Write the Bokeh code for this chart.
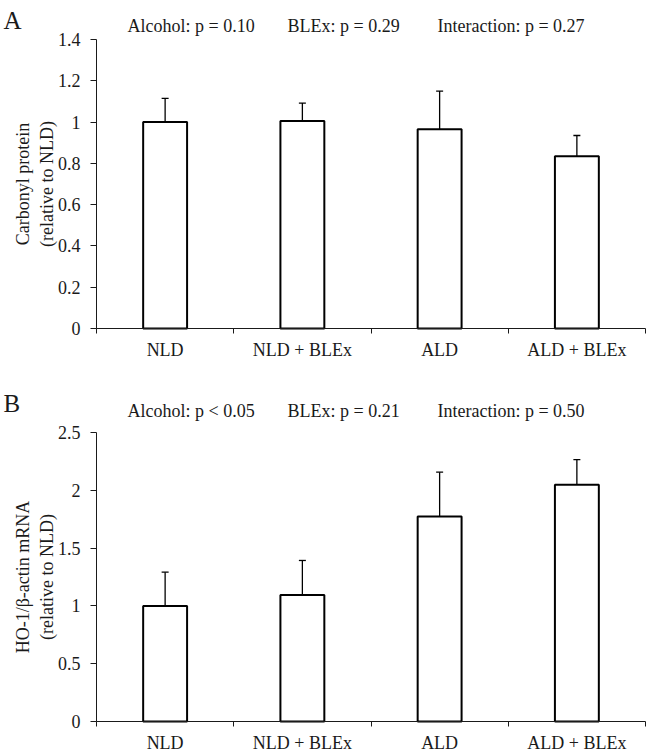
from bokeh.plotting import figure
from bokeh.models import (Range1d, FixedTicker, Whisker, TeeHead, ColumnDataSource,
                          Label, CustomJSTickFormatter)
from bokeh.layouts import column
from bokeh.embed import file_html
from bokeh.resources import INLINE

categories = ["NLD", "NLD + BLEx", "ALD", "ALD + BLEx"]
carbonyl_mean = [1.0, 1.005, 0.965, 0.835]
carbonyl_err = [0.115, 0.087, 0.185, 0.100]
ho1_mean = [1.0, 1.095, 1.773, 2.047]
ho1_err = [0.292, 0.298, 0.384, 0.219]
carbonyl_yticks = [0, 0.2, 0.4, 0.6, 0.8, 1, 1.2, 1.4]
ho1_yticks = [0, 0.5, 1, 1.5, 2, 2.5]
stats_A = ["Alcohol: p = 0.10", "BLEx: p = 0.29", "Interaction: p = 0.27"]
stats_B = ["Alcohol: p < 0.05", "BLEx: p = 0.21", "Interaction: p = 0.50"]

FONT = "Liberation Serif"
INK = "#1a1a1a"
WIDTH = 648
AXIS_X = 96          # canvas x of the y axis
AXIS_END = 645       # canvas x of the right end of the category axis
STAT_X = [127, 287, 437]


def panel(letter, stats, means, errs, yticks, ylabel, height,
          y_top_px, y_zero_px, letter_base, stat_base):
    n = len(categories)
    ppx = (AXIS_END - AXIS_X) / n
    ppy = (y_zero_px - y_top_px) / yticks[-1]
    xr = Range1d(-AXIS_X / ppx, n + (WIDTH - AXIS_END) / ppx)
    yr = Range1d(-(height - y_zero_px) / ppy, yticks[-1] + y_top_px / ppy)
    p = figure(width=WIDTH, height=height, x_range=xr, y_range=yr,
               output_backend="svg", toolbar_location=None, title=None,
               min_border=0, min_border_left=0, min_border_right=0,
               min_border_top=0, min_border_bottom=0)
    p.outline_line_color = None
    p.xgrid.grid_line_color = None
    p.ygrid.grid_line_color = None

    xs = [i + 0.5 for i in range(n)]
    src = ColumnDataSource(dict(x=xs, top=means,
                                upper=[m + e for m, e in zip(means, errs)]))
    p.vbar(x="x", top="top", bottom=0, width=0.32, source=src,
           fill_color="white", line_color="black", line_width=2)
    w = Whisker(base="x", lower="top", upper="upper", source=src,
                dimension="height", line_color="black", line_width=1.3,
                upper_head=TeeHead(size=7, line_color="black", line_width=1.3),
                lower_head=None, level="glyph")
    p.add_layout(w)

    xa = p.xaxis[0]
    xa.fixed_location = 0
    xa.bounds = (0, n)
    xa.ticker = FixedTicker(ticks=xs, minor_ticks=list(range(n + 1)))
    xa.major_label_overrides = {x: c for x, c in zip(xs, categories)}
    xa.major_tick_out = 0
    xa.major_tick_in = 0
    xa.minor_tick_out = 5
    xa.minor_tick_in = 0
    xa.minor_tick_line_color = INK
    xa.axis_line_color = INK
    xa.major_label_standoff = 6
    xa.major_label_text_font = FONT
    xa.major_label_text_font_size = "18px"
    xa.major_label_text_color = INK

    ya = p.yaxis[0]
    ya.fixed_location = 0
    ya.bounds = (0, yticks[-1])
    ya.ticker = FixedTicker(ticks=yticks)
    ya.formatter = CustomJSTickFormatter(code="return String(Math.round(tick*10)/10)")
    ya.major_tick_out = 6
    ya.major_tick_in = 0
    ya.minor_tick_out = 0
    ya.minor_tick_in = 0
    ya.major_tick_line_color = INK
    ya.axis_line_color = INK
    ya.major_label_standoff = 10
    ya.major_label_text_font = FONT
    ya.major_label_text_font_size = "18px"
    ya.major_label_text_color = INK
    ya.axis_label = ylabel
    ya.axis_label_text_font = FONT
    ya.axis_label_text_font_size = "18px"
    ya.axis_label_text_font_style = "normal"
    ya.axis_label_text_color = INK
    ya.axis_label_standoff = -2

    p.add_layout(Label(x=3, y=height - letter_base, x_units="screen", y_units="screen",
                       text=letter, text_font=FONT, text_font_size="25px",
                       text_color=INK, text_baseline="alphabetic"))
    for sx, s in zip(STAT_X, stats):
        p.add_layout(Label(x=sx, y=height - stat_base, x_units="screen", y_units="screen",
                           text=s, text_font=FONT, text_font_size="18px",
                           text_color=INK, text_baseline="alphabetic"))
    return p


pA = panel("A", stats_A, carbonyl_mean, carbonyl_err, carbonyl_yticks,
           "Carbonyl protein\n(relative to NLD)", 380, 39, 328, 20, 25)
pB = panel("B", stats_B, ho1_mean, ho1_err, ho1_yticks,
           "HO-1/\u03b2-actin mRNA\n(relative to NLD)", 371, 52, 341, 23, 30)

layout = column(pA, pB)
open("out.html", "w").write(file_html(layout, INLINE))
